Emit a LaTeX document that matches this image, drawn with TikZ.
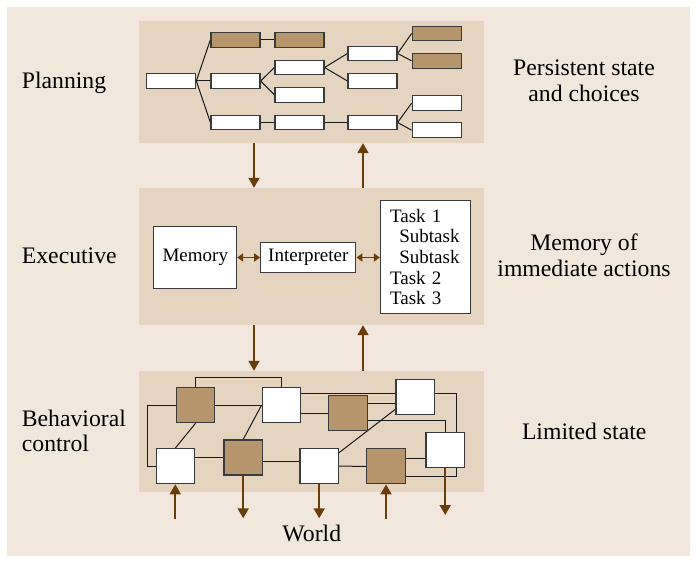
\documentclass[tikz,border=0pt]{standalone}
\usepackage{fontspec}
\setmainfont{Liberation Serif}
\usetikzlibrary{arrows.meta}
\pgfdeclarelayer{back}
\pgfdeclarelayer{wires}
\pgfsetlayers{back,wires,main}
\definecolor{outerbg}{HTML}{F2E7DD}
\definecolor{panelbg}{HTML}{E4D4C0}
\definecolor{brownbox}{HTML}{B5956B}
\definecolor{arrowbrown}{HTML}{6B3D0B}
\definecolor{boxline}{HTML}{3A3A3A}
\tikzset{
 panel/.style={fill=panelbg, draw=none, inner sep=0pt, minimum width=345pt},
 pbox/.style={draw=boxline, line width=1.2pt, fill=white, minimum width=49pt, minimum height=14.7pt, inner sep=0pt},
 pbrown/.style={pbox, fill=brownbox},
 sq/.style={draw=boxline, line width=1.2pt, fill=white, minimum width=38.4pt, minimum height=35pt, inner sep=0pt},
 sqbrown/.style={sq, fill=brownbox},
 link/.style={draw=black!90, line width=1pt},
 flow/.style={draw=arrowbrown, line width=1.8pt, -{Triangle[length=10pt,width=11pt]}},
 dflow/.style={draw=arrowbrown, line width=1.8pt, {Triangle[length=6pt,width=8pt]}-{Triangle[length=6pt,width=8pt]}},
 lab/.style={font=\fontsize{23.7}{25.7}\selectfont, inner sep=0pt},
 ebox/.style={draw=boxline, line width=1pt, fill=white, font=\fontsize{19}{20.6}\selectfont, inner sep=0pt},
}
\begin{document}
\begin{tikzpicture}[x=1pt,y=-1pt]
\useasboundingbox (0,0) rectangle (696,561);
\begin{pgfonlayer}{back}
\fill[outerbg] (7,7) rectangle (690,556);
\node[panel, minimum height=122pt] (plan) at (311.5,82) {};
\node[panel, minimum height=137pt] (exec) at (311.5,256.5) {};
\node[panel, minimum height=121pt] (beh) at (311.5,431.5) {};
\end{pgfonlayer}
% labels
\node[lab, anchor=base west] (lplan) at (21.7,88.3) {Planning};
\node[lab, anchor=base west] (lexec) at (21.7,264) {Executive};
\node[lab, anchor=west, align=left] (lbeh) at (21.7,430.8) {Behavioral\\control};
\node[lab, align=center] (rplan) at (584,80.8) {Persistent state\\and choices};
\node[lab, align=center, font=\fontsize{23.7}{26.7}\selectfont] (rexec) at (584,255.3) {Memory of\\immediate actions};
\node[lab, anchor=base] (rbeh) at (584.2,439) {Limited state};
\node[lab, anchor=base] (world) at (311.8,541.7) {World};
% planning tree
\node[pbox] (root) at (171.2,81) {};
\node[pbrown] (a1) at (235.5,39.8) {};
\node[pbox] (a2) at (235.5,81) {};
\node[pbox] (a3) at (235.5,122.5) {};
\node[pbrown] (b1) at (299.5,39.8) {};
\node[pbox] (b2) at (299.5,67.5) {};
\node[pbox] (b3) at (299.5,94.8) {};
\node[pbox] (b4) at (299.5,122.5) {};
\node[pbox] (c1) at (372.5,53.5) {};
\node[pbox] (c2) at (372.5,81) {};
\node[pbox] (c3) at (372.5,122.5) {};
\node[pbrown] (d1) at (436.7,33.5) {};
\node[pbrown] (d2) at (436.7,60.8) {};
\node[pbox] (d3) at (436.7,103.2) {};
\node[pbox] (d4) at (436.7,130.2) {};
\begin{pgfonlayer}{wires}
\draw[link] (root.east) -- (a1.west);
\draw[link] (root.east) -- (a2.west);
\draw[link] (root.east) -- (a3.west);
\draw[link] (a1.east) -- (b1.west);
\draw[link] (a2.east) -- (b2.west);
\draw[link] (a2.east) -- (b3.west);
\draw[link] (a3.east) -- (b4.west);
\draw[link] (b2.east) -- (c1.west);
\draw[link] (b2.east) -- (c2.west);
\draw[link] (b4.east) -- (c3.west);
\draw[link] (c1.east) -- (d1.west);
\draw[link] (c1.east) -- (d2.west);
\draw[link] (c3.east) -- (d3.west);
\draw[link] (c3.east) -- (d4.west);
\end{pgfonlayer}
% executive
\node[ebox, minimum width=82.7pt, minimum height=61.6pt] (mem) at (195.3,257.5) {Memory};
\node[ebox, minimum width=95.3pt, minimum height=29.6pt] (interp) at (308.3,257.5) {Interpreter};
\node[ebox, text width=70.3pt, inner xsep=9.7pt, minimum height=112.6pt, align=left] (tasks) at (425.2,257) {Task 1\\\hspace*{9.3pt}Subtask\\\hspace*{9.3pt}Subtask\\Task 2\\Task 3};
\draw[dflow] (mem.east) -- (interp.west);
\draw[dflow] (interp.east) -- (tasks.west |- interp.east);
% arrows between panels
\draw[flow] (plan.south -| 254,0) -- (exec.north -| 254,0);
\draw[flow] (exec.north -| 363,0) -- (plan.south -| 363,0);
\draw[flow] (exec.south -| 254,0) -- (beh.north -| 254,0);
\draw[flow] (beh.north -| 363,0) -- (exec.south -| 363,0);
% behavioral control
\node[sqbrown] (B1) at (195.5,405.2) {};
\node[sq] (W2) at (281.3,405.2) {};
\node[sq] (W1) at (175.3,466.2) {};
\node[sqbrown] (B2) at (243.2,457.5) {};
\node[sq] (W3) at (319.2,466.2) {};
\node[sqbrown] (B3) at (348,413.3) {};
\node[sq] (W4) at (415.2,396.8) {};
\node[sqbrown] (B4) at (386,466.3) {};
\node[sq] (W5) at (445.2,449.8) {};
\begin{pgfonlayer}{wires}
\draw[link] (B1.north) -- (B1.north |- 0,377.7) -| (W2.north);
\draw[link] (B1.west) -| (147.3,440) |- (W1.west);
\draw[link] (B1.east) -- (W2.west);
\draw[link] (B1.south) -- (W1.north);
\draw[link] (W1.east |- B2.west) -- (B2.west);
\draw[link] (B2.north) -- (W2.west);
\draw[link] (B2.east |- 0,461) -- (W3.west |- 0,461);
\draw[link] (W2.east |- B3.west) -- (B3.west);
\draw[link] (W2.east |- 0,393.3) -- (W4.west |- 0,393.3);
\draw[link] (W4.east |- 0,393.3) -| (456.7,440) |- (B4.east |- 0,476.7);
\draw[link] (B3.east |- 0,403) -- (W4.west |- 0,403);
\draw[link] (B3.east |- 0,420) -| (W5.north);
\draw[link] (W3.east |- 0,452.7) -- (W4.west |- 0,409.3);
\draw[link] (W3.east) -- (B4.west);
\draw[link] (B4.east |- 0,458.3) -- (W5.west |- 0,458.3);
\end{pgfonlayer}
% world arrows
\coordinate (in1) at (175.3,519);
\coordinate (out1) at (243.2,518.3);
\coordinate (out2) at (319.2,518.3);
\coordinate (in2) at (386,519);
\coordinate (out3) at (445.2,515);
\draw[flow] (in1) -- (W1.south);
\draw[flow] (B2.south) -- (out1);
\draw[flow] (W3.south) -- (out2);
\draw[flow] (in2) -- (B4.south);
\draw[flow] (W5.south) -- (out3);
\end{tikzpicture}
\end{document}
